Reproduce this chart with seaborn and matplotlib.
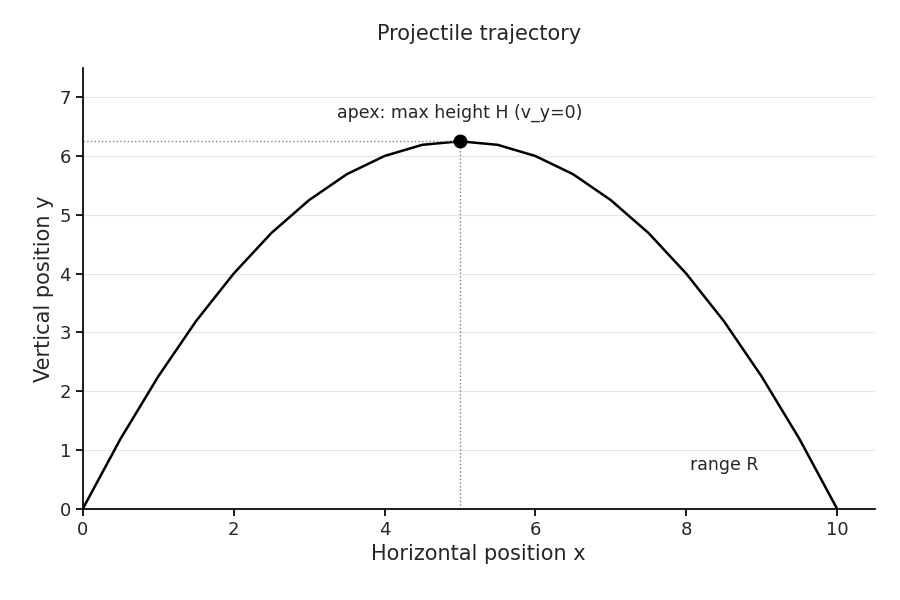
import matplotlib
matplotlib.use("Agg")
import matplotlib.pyplot as plt
import seaborn as sns
import pandas as pd

x_pos = [0, 0.5, 1, 1.5, 2, 2.5, 3, 3.5, 4, 4.5, 5, 5.5, 6, 6.5, 7, 7.5, 8, 8.5, 9, 9.5, 10]
y_pos = [0, 1.19, 2.25, 3.19, 4.0, 4.69, 5.25, 5.69, 6.0, 6.19, 6.25, 6.19, 6.0, 5.69, 5.25, 4.69, 4.0, 3.19, 2.25, 1.19, 0]
apex_x = [5]
apex_y = [6.25]

sns.set_theme(style="white")
fig = plt.figure(figsize=(9, 6), dpi=100)
ax = fig.add_axes([0.092, 0.152, 0.88, 0.735])
df = pd.DataFrame({"x": x_pos, "y": y_pos})
sns.lineplot(data=df, x="x", y="y", color="black", lw=1.8, ax=ax)
ax.plot(apex_x, apex_y, "o", color="black", ms=9, zorder=5)
ax.plot([0, apex_x[0]], [apex_y[0]] * 2, ls=":", color="gray", lw=1)
ax.plot([apex_x[0]] * 2, [0, apex_y[0]], ls=":", color="gray", lw=1)
ax.set_xlim(0, 10.5)
ax.set_ylim(0, 7.5)
ax.set_xticks([0, 2, 4, 6, 8, 10])
ax.set_yticks(range(8))
ax.yaxis.grid(True, color="#e5e5e5", lw=0.8)
ax.set_axisbelow(True)
for s in ["top", "right"]:
    ax.spines[s].set_visible(False)
for s in ["left", "bottom"]:
    ax.spines[s].set_color("black")
ax.tick_params(axis="both", labelsize=13, length=5, color="black", bottom=True, left=True)
ax.set_xlabel("Horizontal position x", fontsize=15)
ax.set_ylabel("Vertical position y", fontsize=15)
ax.set_title("Projectile trajectory", fontsize=15, pad=20)
ax.text(5, 6.65, "apex: max height H (v_y=0)", ha="center", fontsize=12.5)
ax.text(8.5, 0.75, "range R", ha="center", va="center", fontsize=12.5)
fig.savefig("out.png", dpi=100)
